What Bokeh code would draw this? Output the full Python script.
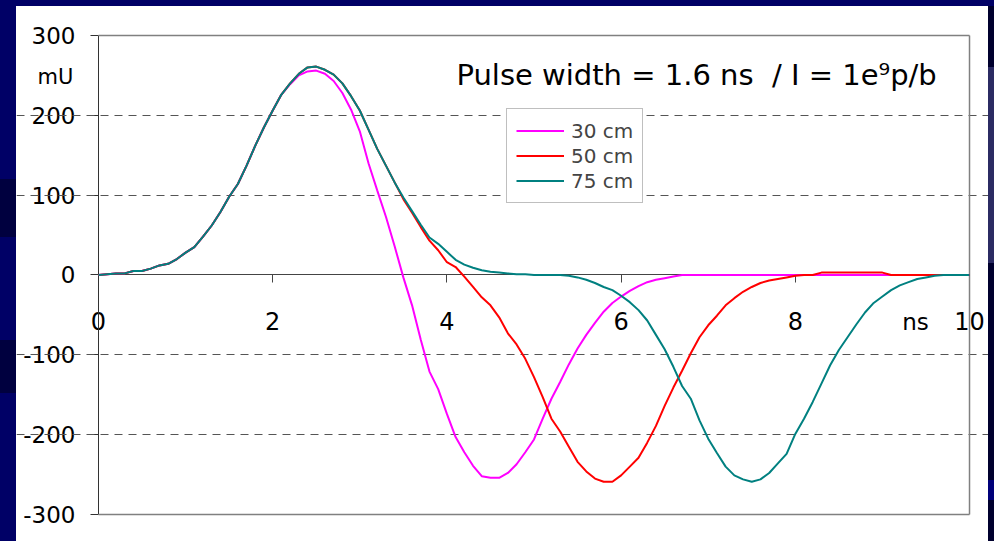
from bokeh.plotting import figure
from bokeh.models import Legend, LegendItem, Label, FixedTicker, Range1d, Spacer
from bokeh.layouts import row, column
from bokeh.embed import file_html
from bokeh.resources import INLINE

# Time axis in ns (0.1 ns sampling)
time_ns = [
    0.0, 0.1, 0.2, 0.3, 0.4, 0.5, 0.6, 0.7, 0.8, 0.9,
    1.0, 1.1, 1.2, 1.3, 1.4, 1.5, 1.6, 1.7, 1.8, 1.9,
    2.0, 2.1, 2.2, 2.3, 2.4, 2.5, 2.6, 2.7, 2.8, 2.9,
    3.0, 3.1, 3.2, 3.3, 3.4, 3.5, 3.6, 3.7, 3.8, 3.9,
    4.0, 4.1, 4.2, 4.3, 4.4, 4.5, 4.6, 4.7, 4.8, 4.9,
    5.0, 5.1, 5.2, 5.3, 5.4, 5.5, 5.6, 5.7, 5.8, 5.9,
    6.0, 6.1, 6.2, 6.3, 6.4, 6.5, 6.6, 6.7, 6.8, 6.9,
    7.0, 7.1, 7.2, 7.3, 7.4, 7.5, 7.6, 7.7, 7.8, 7.9,
    8.0, 8.1, 8.2, 8.3, 8.4, 8.5, 8.6, 8.7, 8.8, 8.9,
    9.0, 9.1, 9.2, 9.3, 9.4, 9.5, 9.6, 9.7, 9.8, 9.9,
    10.0,
]

# Signal in mU for each cable length
signal_30cm = [
    0, 1, 2, 2, 5, 5, 8, 12, 14, 20,
    28, 35, 48, 62, 79, 98, 114, 137, 162, 185,
    206, 226, 239, 250, 255, 256, 252, 243, 228, 207,
    180, 140, 106, 73, 36, -3, -38, -81, -121, -143,
    -174, -203, -222, -239, -252, -254, -254, -248, -237, -222,
    -206, -180, -155, -134, -112, -92, -75, -60, -46, -35,
    -27, -20, -14, -9, -6, -4, -2, 0, 0, 0,
    0, 0, 0, 0, 0, 0, 0, 0, 0, 0,
    0, 0, 0, 0, 0, 0, 0, 0, 0, 0,
    0, 0, 0, 0, 0, 0, 0, 0, 0, 0,
    0,
]

signal_50cm = [
    0, 1, 2, 2, 5, 5, 8, 12, 14, 20,
    28, 35, 48, 62, 79, 98, 114, 137, 162, 185,
    206, 226, 240, 252, 260, 261, 257, 251, 240, 224,
    206, 182, 158, 137, 116, 95, 78, 60, 43, 31,
    16, 10, -2, -15, -28, -38, -53, -73, -87, -105,
    -128, -153, -180, -196, -215, -234, -246, -255, -259, -259,
    -251, -240, -229, -210, -189, -164, -141, -120, -98, -78,
    -63, -51, -38, -29, -21, -15, -10, -7, -5, -3,
    -1, 0, 0, 3, 3, 3, 3, 3, 3, 3,
    3, 0, 0, 0, 0, 0, 0, 0, 0, 0,
    0,
]

signal_75cm = [
    0, 1, 2, 2, 5, 5, 8, 12, 14, 20,
    28, 35, 48, 62, 79, 98, 114, 137, 162, 185,
    206, 226, 240, 252, 260, 261, 257, 251, 240, 224,
    206, 182, 158, 137, 116, 97, 80, 63, 47, 39,
    29, 19, 13, 9, 6, 4, 3, 2, 1, 1,
    0, 0, 0, 0, -1, -3, -6, -10, -15, -19,
    -26, -34, -44, -57, -75, -93, -115, -139, -155, -182,
    -205, -223, -240, -251, -256, -259, -256, -248, -236, -224,
    -199, -180, -159, -136, -113, -94, -78, -62, -47, -35,
    -27, -19, -13, -9, -5, -3, -1, 0, 0, 0,
    0,
]

series_labels = ["30 cm", "50 cm", "75 cm"]
series_colors = ["#FF00FF", "#FF0000", "#008080"]

x_ticks = [0, 2, 4, 6, 8, 10]
y_ticks = [-300, -200, -100, 0, 100, 200, 300]

FONT = "DejaVu Sans"
NAVY = "#000066"

x_lo, x_hi = x_ticks[0], x_ticks[-1]
y_lo, y_hi = y_ticks[0], y_ticks[-1]

# The frame covers the whole white panel; the plot box sits inside it
p = figure(
    width=972, height=535,
    x_range=Range1d(-0.9414, 10.218), y_range=Range1d(-333.8, 336.3),
    output_backend="svg", toolbar_location=None,
    min_border=0,
    background_fill_color="white", border_fill_color="white",
)
p.outline_line_color = None

# y axis along t = 0
p.yaxis.fixed_location = 0
p.yaxis.bounds = (y_lo, y_hi)
p.yaxis.ticker = FixedTicker(ticks=y_ticks)
p.yaxis.major_label_overrides = {v: str(v) for v in y_ticks}
p.yaxis.axis_line_color = "#333333"
p.yaxis.major_tick_line_color = "#333333"
p.yaxis.major_tick_out = 8
p.yaxis.major_tick_in = 0
p.yaxis.minor_tick_line_color = None
p.yaxis.major_label_standoff = 15
p.yaxis.major_label_text_font = FONT
p.yaxis.major_label_text_font_size = "23px"
p.yaxis.major_label_text_color = "black"
p.yaxis.level = "underlay"

# time axis crossing at zero
p.xaxis.fixed_location = 0
p.xaxis.bounds = (x_lo, x_hi)
p.xaxis.ticker = FixedTicker(ticks=x_ticks)
p.xaxis.axis_line_color = "#444444"
p.xaxis.major_tick_line_color = "#444444"
p.xaxis.major_tick_out = 8
p.xaxis.major_tick_in = 0
p.xaxis.minor_tick_line_color = None
p.xaxis.major_label_standoff = 29
p.xaxis.major_label_text_font = FONT
p.xaxis.major_label_text_font_size = "24px"
p.xaxis.major_label_text_color = "black"
p.xaxis.level = "underlay"

p.xgrid.grid_line_color = None
p.ygrid.ticker = FixedTicker(ticks=[-200, -100, 100, 200])
p.ygrid.bounds = (x_lo, x_hi)
p.ygrid.grid_line_color = "#555555"
p.ygrid.grid_line_dash = "8 6"
p.ygrid.grid_line_width = 1

# plot box: top, right and bottom edges
p.multi_line(
    xs=[[x_lo, x_hi], [x_hi, x_hi], [x_lo, x_hi]],
    ys=[[y_hi, y_hi], [y_lo, y_hi], [y_lo, y_lo]],
    line_color="#808080", line_width=1.5,
)

renderers = []
for sig, col in zip([signal_30cm, signal_50cm, signal_75cm], series_colors):
    r = p.line(time_ns, sig, line_color=col, line_width=2)
    renderers.append(r)

legend = Legend(
    items=[LegendItem(label=lab, renderers=[r]) for lab, r in zip(series_labels, renderers)],
    location=(490, 338),
    border_line_color="#808080", border_line_width=1,
    background_fill_color="white", background_fill_alpha=1,
    label_text_font=FONT, label_text_font_size="20px",
    glyph_width=48, glyph_height=25, label_height=25,
    label_standoff=7, spacing=0, padding=9, margin=0,
)
p.add_layout(legend)

p.add_layout(Label(
    x=4.11, y=250, text="Pulse width = 1.6 ns\u00a0 / I = 1e\u2079p/b",
    text_font=FONT, text_font_size="29px", text_color="black",
    text_align="left", text_baseline="middle",
))
p.add_layout(Label(
    x=-0.494, y=248, text="mU",
    text_font=FONT, text_font_size="21px", text_color="black",
    text_align="center", text_baseline="middle",
))
p.add_layout(Label(
    x=9.38, y=-59, text="ns",
    text_font=FONT, text_font_size="23px", text_color="black",
    text_align="center", text_baseline="middle",
))

# slide backdrop around the white panel
left_band = Spacer(width=16, height=541, styles={
    "background": "linear-gradient(to bottom, #000066 0px, #000066 179px, #00003f 179px, "
                  "#00003f 237px, #000066 237px, #000066 340px, #00003f 340px, #00003f 393px, "
                  "#000066 393px, #000066 541px)"
})
top_band = Spacer(width=972, height=6, styles={"background-color": NAVY})
right_band = Spacer(width=6, height=541, styles={
    "background": "linear-gradient(to bottom, #000066 0px, #000066 6px, #00002e 6px, "
                  "#00002e 67px, #2b2b63 67px, #2b2b63 263px, #00002e 263px, #00002e 480px, "
                  "#00007a 480px, #00007a 500px, #00002e 500px, #00002e 541px)"
})

layout = row(left_band, column(top_band, p, spacing=0), right_band, spacing=0)

open("out.html", "w").write(file_html(layout, INLINE))
